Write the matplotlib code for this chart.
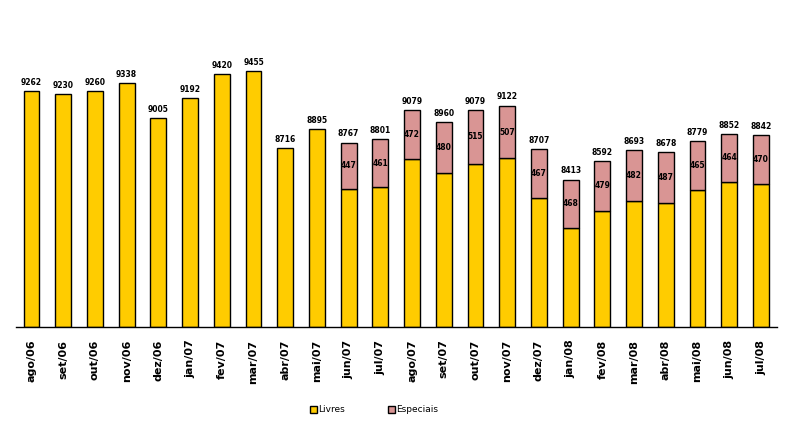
import matplotlib
matplotlib.use("Agg")
import matplotlib.pyplot as plt
import numpy as np

# monthly data
meses = ['ago/06', 'set/06', 'out/06', 'nov/06', 'dez/06', 'jan/07', 'fev/07', 'mar/07',
         'abr/07', 'mai/07', 'jun/07', 'jul/07', 'ago/07', 'set/07', 'out/07', 'nov/07',
         'dez/07', 'jan/08', 'fev/08', 'mar/08', 'abr/08', 'mai/08', 'jun/08', 'jul/08']
totais = [9262, 9230, 9260, 9338, 9005, 9192, 9420, 9455, 8716, 8895, 8767, 8801,
          9079, 8960, 9079, 9122, 8707, 8413, 8592, 8693, 8678, 8779, 8852, 8842]
livres = [9262, 9230, 9260, 9338, 9005, 9192, 9420, 9455, 8716, 8895, 8320, 8340,
          8607, 8480, 8564, 8615, 8240, 7945, 8113, 8211, 8191, 8314, 8388, 8372]
especiais = [0, 0, 0, 0, 0, 0, 0, 0, 0, 0, 447, 461,
             472, 480, 515, 507, 467, 468, 479, 482, 487, 465, 464, 470]

base = 7000
amarelo = '#FFCC00'
rosa = '#D99594'

fig = plt.figure(figsize=(7.92, 4.30), dpi=100)
ax = fig.add_axes([0.0198, 0.2395, 0.961, 0.728])

x = np.arange(len(meses))
liv_h = [v - base for v in livres]
ax.bar(x, liv_h, bottom=base, width=0.5, color=amarelo, edgecolor='black',
       linewidth=1, label='Livres')
esp_x = [i for i in x if especiais[i] > 0]
esp_v = [especiais[i] for i in esp_x]
esp_b = [livres[i] for i in esp_x]
ax.bar(esp_x, esp_v, bottom=esp_b, width=0.5, color=rosa, edgecolor='black',
       linewidth=1, label='Especiais')

# totals above bars
for i in x:
    ax.text(i, totais[i] + 40, str(totais[i]), ha='center', va='bottom',
            fontsize=5.5, fontweight='bold')
# especiais values inside
for i, v, b in zip(esp_x, esp_v, esp_b):
    ax.text(i, b + v / 2, str(v), ha='center', va='center',
            fontsize=5.5, fontweight='bold')

ax.set_xlim(-0.5, len(meses) - 0.5)
ax.set_ylim(base, 10000)
ax.set_xticks(x)
ax.set_xticklabels(meses, rotation=90, fontsize=8, fontweight='bold')
ax.tick_params(axis='x', length=0, pad=9)
ax.set_yticks([])
for s in ['top', 'left', 'right']:
    ax.spines[s].set_visible(False)
ax.spines['bottom'].set_linewidth(1)

fig.legend(loc='center', bbox_to_anchor=(0.472, 0.047), ncol=2, frameon=False,
           fontsize=6.5, handlelength=0.8, handleheight=0.8, handletextpad=0.1,
           columnspacing=4.8)

fig.savefig('out.png', dpi=100)
